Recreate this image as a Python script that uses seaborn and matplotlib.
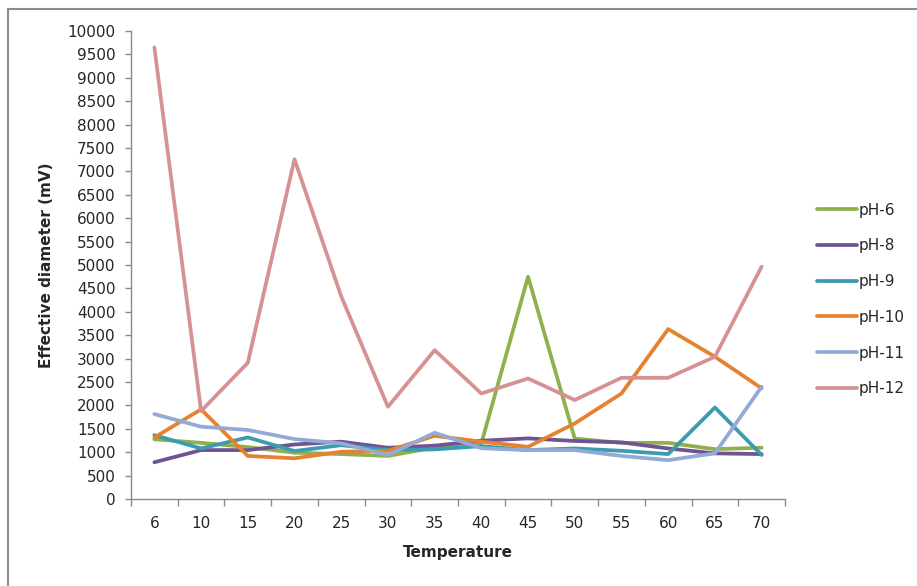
import matplotlib
matplotlib.use("Agg")
import matplotlib.pyplot as plt
from matplotlib.lines import Line2D
import numpy as np
import pandas as pd
import seaborn as sns

temperatures = ["6", "10", "15", "20", "25", "30", "35", "40", "45", "50", "55", "60", "65", "70"]

ph6 = [1275, 1200, 1110, 990, 960, 920, 1100, 1190, 4750, 1290, 1200, 1200, 1065, 1095]
ph8 = [785, 1045, 1045, 1165, 1225, 1095, 1140, 1245, 1295, 1240, 1210, 1080, 975, 960]
ph9 = [1365, 1080, 1315, 1025, 1150, 1045, 1060, 1130, 1045, 1080, 1030, 960, 1955, 940]
ph10 = [1315, 1915, 920, 870, 1010, 1030, 1350, 1225, 1115, 1615, 2255, 3630, 3040, 2365]
ph11 = [1815, 1545, 1475, 1280, 1190, 940, 1415, 1085, 1045, 1045, 920, 830, 975, 2400]
ph12 = [9650, 1880, 2910, 7260, 4330, 1970, 3180, 2255, 2575, 2115, 2590, 2590, 3040, 4965]

series_names = ["pH-6", "pH-8", "pH-9", "pH-10", "pH-11", "pH-12"]
series_values = [ph6, ph8, ph9, ph10, ph11, ph12]
colors = ["#8fb04c", "#6f5493", "#3a9bb1", "#e4822f", "#93aad6", "#d69292"]

rows = []
for name, vals in zip(series_names, series_values):
    for t, v in zip(temperatures, vals):
        rows.append({"Temperature": t, "value": v, "series": name})
df = pd.DataFrame(rows)

sns.set_style("white")
plt.rcParams["font.family"] = ["DejaVu Sans"]

fig = plt.figure(figsize=(9.17, 5.86), dpi=100)
ax = fig.add_axes([131 / 917, 87 / 586, 654 / 917, 468 / 586])

sns.lineplot(data=df, x="Temperature", y="value", hue="series", hue_order=series_names,
             palette=dict(zip(series_names, colors)), sort=False, linewidth=2.7, ax=ax)

ax.set_ylim(0, 10000)
ax.set_yticks(np.arange(0, 10001, 500))
ax.set_xlim(-0.5, len(temperatures) - 0.5)
ax.set_xticks(np.arange(-0.5, len(temperatures), 1), minor=True)

grey = "#8a8a8a"
for side in ["top", "right"]:
    ax.spines[side].set_visible(False)
for side in ["left", "bottom"]:
    ax.spines[side].set_color(grey)
    ax.spines[side].set_linewidth(1.0)

ax.tick_params(axis="y", which="major", left=True, length=4, width=1, color=grey,
               labelsize=11, labelcolor="#262626", pad=7)
ax.tick_params(axis="x", which="major", bottom=False, length=0, labelsize=11,
               labelcolor="#262626", pad=12)
ax.tick_params(axis="x", which="minor", bottom=True, length=5, width=1, color=grey)

ax.set_xlabel("Temperature", fontsize=11, fontweight="bold", labelpad=10)
ax.set_ylabel("Effective diameter (mV)", fontsize=11, fontweight="bold", labelpad=10)

ax.legend(frameon=False, loc="center left", bbox_to_anchor=(817 / 917, 0.489),
          bbox_transform=fig.transFigure, fontsize=11, handlelength=2.6,
          handletextpad=0.15, labelspacing=1.36, borderpad=0, borderaxespad=0)

# outer frame (cut at right and bottom in the reference)
fig.add_artist(Line2D([8 / 917, 1], [1 - 9 / 586, 1 - 9 / 586], transform=fig.transFigure,
                      color="#8c8c8c", lw=1.5))
fig.add_artist(Line2D([8 / 917, 8 / 917], [0, 1 - 9 / 586], transform=fig.transFigure,
                      color="#8c8c8c", lw=1.5))

fig.savefig("out.png", dpi=100)
